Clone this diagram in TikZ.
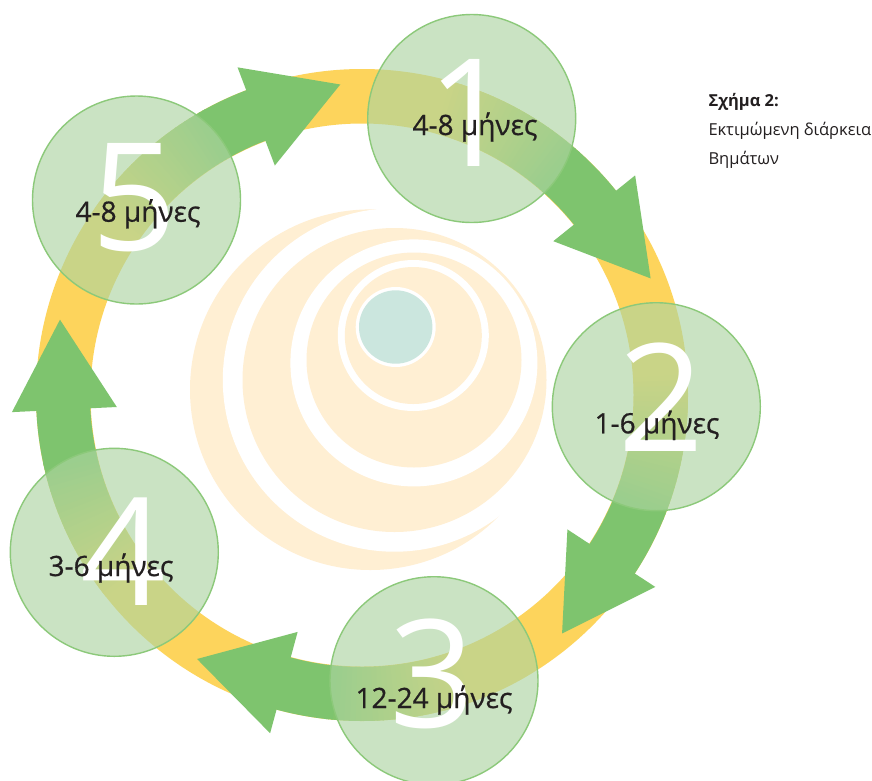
\documentclass[tikz,border=0pt]{standalone}
\usepackage{fontspec}
\setmainfont{Open Sans}
\newfontfamily\labelfont[FakeBold=0.7]{Open Sans}
\usetikzlibrary{calc}
\definecolor{ringY}{RGB}{253,212,92}
\definecolor{arrG}{RGB}{126,196,110}
\definecolor{circF}{RGB}{172,212,161}
\definecolor{circD}{RGB}{140,201,122}
\definecolor{peach}{RGB}{255,239,211}
\definecolor{tealC}{RGB}{203,230,222}
\definecolor{txtC}{RGB}{35,31,32}
\tikzset{
  stage/.style={circle, minimum size=208pt, inner sep=0pt, outer sep=0pt, fill=circF, fill opacity=0.63, draw=circD, draw opacity=1, line width=1.4pt},
  numeral/.style={text=white, font=\fontsize{150}{150}\selectfont, inner sep=0pt, anchor=base},
  dur/.style={text=txtC, font=\labelfont\fontsize{28}{28}\selectfont, inner sep=0pt, anchor=base},
  capline/.style={text=txtC, font=\fontsize{16.5}{16.5}\selectfont, inner sep=0pt, anchor=base west},
  shaft/.style={line width=54pt},
}
\newcommand{\stagearrow}[2]{%
  \foreach \i in {0,...,25} {
    \pgfmathsetmacro{\aa}{#1+6-\i}
    \pgfmathsetmacro{\ab}{#1+6-\i-1.3}
    \pgfmathtruncatemacro{\pp}{100*(\i+1)/26}
    \draw[shaft, color=arrG!\pp!ringY] ($(O)+(\aa:299)$) arc[start angle=\aa, end angle=\ab, radius=299];
  }
  \pgfmathsetmacro{\fa}{#1-19.7}
  \pgfmathsetmacro{\fb}{#2-3}
  \draw[shaft, arrG] ($(O)+(\fa:299)$) arc[start angle=\fa, end angle=\fb, radius=299];
  \fill[arrG] ($(O)+(#2:245.5)$) -- ($(O)+(#2:350.5)$) -- ($(O)+(#2:298)+(#2-90:90)$) -- cycle;
}
\begin{document}
\begin{tikzpicture}[x=1pt,y=1pt]
\useasboundingbox (0,0) rectangle (872,-780);
\fill[white] (0,0) rectangle (872,-780);
% central swirl
\fill[peach] (370.3,-389.7) circle (180.3);
\fill[white] (394.5,-380) circle (171.7);
\fill[peach] (394.5,-380) circle (152);
\fill[white] (413.9,-362.9) circle (123.5);
\fill[peach] (414,-360) circle (107.5);
\fill[white] (413.3,-335.5) circle (75.5);
\fill[peach] (413.3,-335.5) circle (68.5);
\fill[white] (395.7,-327) circle (40);
\fill[tealC] (395.7,-327) circle (36.7);
% ring
\coordinate (O) at (362,-395);
\draw[ringY, line width=54.5pt] (O) circle (298.75);
% arrows
\stagearrow{68.3}{38.8}
\stagearrow{-2.3}{-33.2}
\stagearrow{-76.1}{-105.2}
\stagearrow{-147.7}{-177.2}
\stagearrow{139.1}{110.8}
% stage circles
\node[stage] (s1) at (471.7,-118.5) {};
\node[stage] (s2) at (656.3,-406.7) {};
\node[stage] (s3) at (434,-680.7) {};
\node[stage] (s4) at (114.3,-552.3) {};
\node[stage] (s5) at (136.5,-200) {};
% numerals
\node[numeral] (n1) at (470,-166.7) {1};
\node[numeral] (n2) at (661.7,-451.7) {2};
\node[numeral] (n3) at (432,-727) {3};
\node[numeral] (n4) at (123,-605) {4};
\node[numeral] (n5) at (134,-250) {5};
% durations
\node[dur] (l1) at (475,-135) {4-8 μήνες};
\node[dur] (l2) at (657,-433.3) {1-6 μήνες};
\node[dur] (l3) at (434,-708) {12-24 μήνες};
\node[dur] (l4) at (111,-576) {3-6 μήνες};
\node[dur] (l5) at (138,-221.7) {4-8 μήνες};
% caption
\node[capline, font=\fontsize{16.5}{16.5}\selectfont\bfseries] (t1) at (708.3,-106.7) {Σχήμα 2:};
\node[capline] (t2) at (708.3,-135) {Εκτιμώμενη διάρκεια};
\node[capline] (t3) at (708.3,-164) {Βημάτων};
\end{tikzpicture}
\end{document}
